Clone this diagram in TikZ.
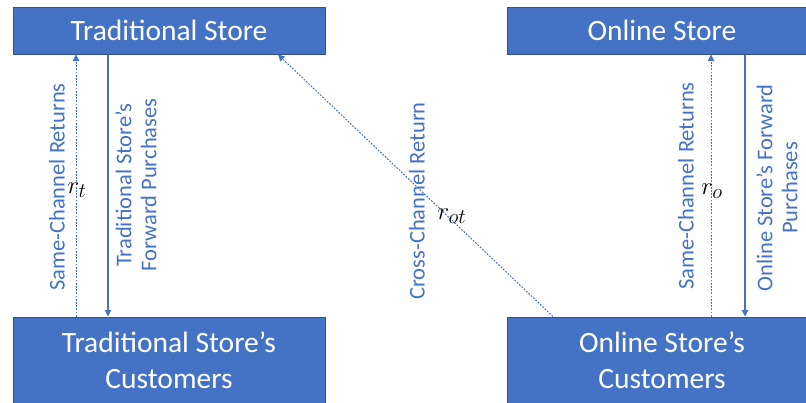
\documentclass[tikz,border=0pt]{standalone}
\usepackage{fontspec}
\setmainfont{Carlito}
\usetikzlibrary{arrows.meta}
\definecolor{boxblue}{HTML}{4472C4}
\definecolor{boxedge}{HTML}{2F528F}
\definecolor{linkblue}{HTML}{4472C4}
\begin{document}
\begin{tikzpicture}[x=1pt,y=1pt,
  store/.style={draw=boxedge,line width=1pt,fill=boxblue,text=white,inner sep=0pt,align=center,
    font=\fontsize{29.5}{36}\selectfont},
  fwd/.style={draw=linkblue,line width=1.1pt,-{Triangle[width=6.5pt,length=6.5pt]}},
  ret/.style={draw=linkblue,line width=1pt,dash pattern=on 1.8pt off 1.4pt,-{Triangle[width=6.5pt,length=6.5pt]}},
  lbl/.style={text=linkblue,rotate=90,align=center,inner sep=0pt,font=\fontsize{22.5}{25}\selectfont},
  mth/.style={inner sep=0pt,font=\fontsize{32}{34}\selectfont}]
\useasboundingbox (0,0) rectangle (806,-402);
\clip (0,0) rectangle (806,-402);
% boxes
\node[store,minimum width=312pt,minimum height=47pt] (ts) at (169,-30.5) {Traditional Store};
\node[store,minimum width=310pt,minimum height=47pt] (os) at (662,-30.5) {Online Store};
\node[store,minimum width=312pt,minimum height=86pt] (tc) at (169,-360) {Traditional Store’s\\Customers};
\node[store,minimum width=310pt,minimum height=86pt] (oc) at (662,-360) {Online Store’s\\Customers};
% x positions of connectors
\coordinate (xrt) at (76,0);
\coordinate (xft) at (108,0);
\coordinate (xro) at (711,0);
\coordinate (xfo) at (745,0);
\coordinate (xd1) at (553,0);
\coordinate (xd2) at (278,0);
% connectors
\draw[ret] (tc.north -| xrt) -- (ts.south -| xrt);
\draw[fwd] (ts.south -| xft) -- (tc.north -| xft);
\draw[ret] (oc.north -| xro) -- (os.south -| xro);
\draw[fwd] (os.south -| xfo) -- (oc.north -| xfo);
\draw[ret] (oc.north -| xd1) -- (ts.south -| xd2);
% labels
\node[lbl] (l1) at (57,-187) {Same-Channel Returns};
\node[lbl] (l2) at (136,-185) {Traditional Store’s\\Forward Purchases};
\node[lbl] (l3) at (417,-201) {Cross-Channel Return};
\node[lbl] (l4) at (686,-186) {Same-Channel Returns};
\node[lbl] (l5) at (777,-188) {Online Store’s Forward\\Purchases};
\node[mth] (m1) at (77,-190) {$r_t$};
\node[mth] (m2) at (712,-191) {$r_o$};
\node[mth] (m3) at (452,-216) {$r_{ot}$};
\end{tikzpicture}
\end{document}
